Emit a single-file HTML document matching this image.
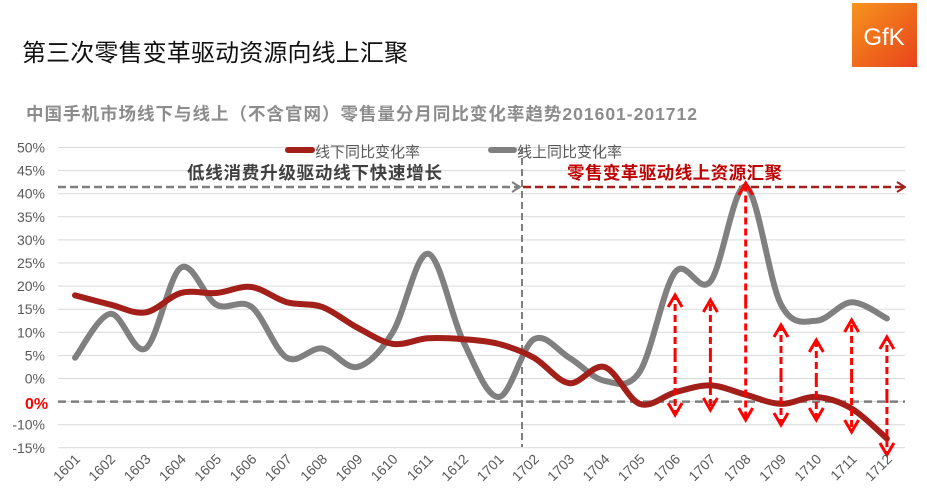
<!DOCTYPE html>
<html><head><meta charset="utf-8"><style>
html,body{margin:0;padding:0;background:#fff;width:927px;height:497px;overflow:hidden}
svg text{font-family:"Liberation Sans","Noto Sans CJK SC",sans-serif}
</style></head><body>
<svg id="s" width="927" height="497" xmlns="http://www.w3.org/2000/svg">
<defs>
<linearGradient id="g" x1="0" y1="0" x2="1" y2="1"><stop offset="0" stop-color="#f7941d"/><stop offset="1" stop-color="#e8431c"/></linearGradient>
<marker id="ag" markerWidth="10" markerHeight="12" refX="9" refY="6" orient="auto" markerUnits="userSpaceOnUse"><path d="M1,1 L9,6 L1,11" fill="none" stroke="#7f7f7f" stroke-width="2"/></marker>
<marker id="ar" markerWidth="10" markerHeight="12" refX="9" refY="6" orient="auto" markerUnits="userSpaceOnUse"><path d="M1,1 L9,6 L1,11" fill="none" stroke="#a31f1a" stroke-width="2"/></marker>
<marker id="rr" markerWidth="18" markerHeight="18" refX="14" refY="9" orient="auto" markerUnits="userSpaceOnUse"><path d="M2,2 L14,9 L2,16" fill="none" stroke="#ff0000" stroke-width="3"/></marker>
</defs>
<rect x="852" y="3" width="65" height="64" fill="url(#g)"/>
<text x="884" y="45" font-size="24" fill="#fff" text-anchor="middle">GfK</text>
<text x="22" y="61" font-size="24" fill="#111" textLength="386">第三次零售变革驱动资源向线上汇聚</text>
<text x="26" y="120" font-size="17.5" font-weight="bold" fill="#8c8c8c" textLength="671">中国手机市场线下与线上（不含官网）零售量分月同比变化率趋势201601-201712</text>
<g id="grid"></g>
<g id="lbl" font-size="14" fill="#595959"></g>
<line x1="58" y1="401.6" x2="905" y2="401.6" stroke="#7f7f7f" stroke-width="2.5" stroke-dasharray="8,5"/>
<text x="25" y="409" font-size="16" font-weight="bold" fill="#ff0000">0%</text>
<line x1="58" y1="187" x2="520" y2="187" stroke="#7f7f7f" stroke-width="2.5" stroke-dasharray="8,4" marker-end="url(#ag)"/>
<line x1="523" y1="187" x2="905" y2="187" stroke="#a31f1a" stroke-width="2.5" stroke-dasharray="8,4" marker-end="url(#ar)"/>
<line x1="522" y1="147" x2="522" y2="447" stroke="#7f7f7f" stroke-width="2" stroke-dasharray="7,4"/>
<text x="187" y="179" font-size="17.5" font-weight="bold" fill="#404040" textLength="255">低线消费升级驱动线下快速增长</text>
<text x="567" y="179" font-size="17.5" font-weight="bold" fill="#c00000" textLength="215">零售变革驱动线上资源汇聚</text>
<line x1="288" y1="150" x2="312" y2="150" stroke="#a31f1a" stroke-width="6" stroke-linecap="round"/>
<text x="315" y="157" font-size="15" fill="#595959">线下同比变化率</text>
<line x1="491" y1="150" x2="514" y2="150" stroke="#808080" stroke-width="6" stroke-linecap="round"/>
<text x="517" y="157" font-size="15" fill="#595959">线上同比变化率</text>
<path id="gray" fill="none" stroke="#808080" stroke-width="6" stroke-linecap="round"/>
<path id="red" fill="none" stroke="#a31f1a" stroke-width="6" stroke-linecap="round"/>
<g id="arr"></g>
<g id="xl" font-size="14" fill="#595959"></g>
</svg>
<script>
var NS="http://www.w3.org/2000/svg";
function Y(v){return 378.5-v*4.62;}
function X(i){return 75+i*35.3;}
var g=document.getElementById('grid'),l=document.getElementById('lbl');
for(var v=50;v>=-15;v-=5){
 var ln=document.createElementNS(NS,'line');ln.setAttribute('x1',58);ln.setAttribute('x2',905);ln.setAttribute('y1',Y(v));ln.setAttribute('y2',Y(v));ln.setAttribute('stroke','#d9d9d9');ln.setAttribute('stroke-width',1);g.appendChild(ln);
 if(v==-5)continue;
 var t=document.createElementNS(NS,'text');t.setAttribute('x',45);t.setAttribute('y',Y(v)+5);t.setAttribute('text-anchor','end');t.textContent=v+'%';l.appendChild(t);
}
var red=[18,16,14.3,18.5,18.5,19.8,16.5,15.5,11,7.5,8.7,8.5,7.5,4.5,-1,2.5,-5.5,-3,-1.5,-3.5,-5.5,-4,-6.5,-13];
var gray=[4.5,14,6.5,24,16,15.5,4.5,6.5,2.5,10,27,8,-4,8.5,4.5,-0.5,1.5,23,21,41.5,16,12.5,16.5,13];
function path(d){var p=d.map(function(v,i){return [X(i),Y(v)]});var s='M'+p[0][0]+','+p[0][1];
 for(var i=0;i<p.length-1;i++){var p0=p[i-1]||p[i],p1=p[i],p2=p[i+1],p3=p[i+2]||p2;
 s+=' C'+(p1[0]+(p2[0]-p0[0])/6)+','+(p1[1]+(p2[1]-p0[1])/6)+' '+(p2[0]-(p3[0]-p1[0])/6)+','+(p2[1]-(p3[1]-p1[1])/6)+' '+p2[0]+','+p2[1];}return s;}
document.getElementById('red').setAttribute('d',path(red));
document.getElementById('gray').setAttribute('d',path(gray));
var ar=document.getElementById('arr');
[[17,295,415],[18,300,410],[19,183,420],[20,325,425],[21,340,420],[22,320,432],[23,337,455]].forEach(function(a){
 var x=X(a[0]);
 [[ (a[1]+a[2])/2,a[1]],[(a[1]+a[2])/2,a[2]]].forEach(function(s){
 var ln=document.createElementNS(NS,'line');ln.setAttribute('x1',x);ln.setAttribute('x2',x);ln.setAttribute('y1',s[0]);ln.setAttribute('y2',s[1]);ln.setAttribute('stroke','#ff0000');ln.setAttribute('stroke-width',3);ln.setAttribute('stroke-dasharray','7,4');ln.setAttribute('marker-end','url(#rr)');ar.appendChild(ln);});
});
var xl=document.getElementById('xl');
for(var i=0;i<24;i++){var yy=16+Math.floor(i/12),mm=(i%12)+1;var lab=''+yy+(mm<10?'0':'')+mm;
 var t=document.createElementNS(NS,'text');var x=X(i)+6,y=460;t.setAttribute('x',x);t.setAttribute('y',y);t.setAttribute('text-anchor','end');t.setAttribute('transform','rotate(-45 '+x+' '+y+')');t.textContent=lab;xl.appendChild(t);}
</script>
</body></html>
